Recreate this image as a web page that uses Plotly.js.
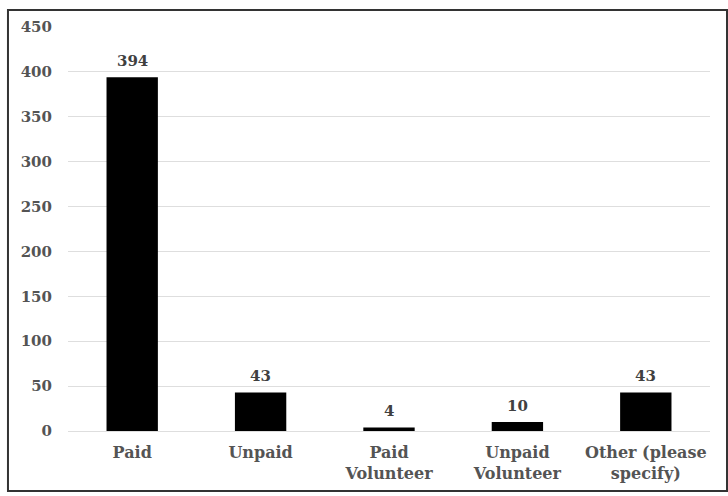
<!DOCTYPE html>
<html>
<head>
<meta charset="utf-8">
<script src="https://cdn.plot.ly/plotly-3.0.1.min.js"></script>
<style>html,body{margin:0;padding:0;background:#fff;}#chart{width:728px;height:496px;}</style>
</head>
<body>
<div id="chart"></div>
<script>
const categories = ["Paid", "Unpaid", "Paid<br>Volunteer", "Unpaid<br>Volunteer", "Other (please<br>specify)"];
const values = [394, 43, 4, 10, 43];
const yTicks = [0, 50, 100, 150, 200, 250, 300, 350, 400, 450];

const fontFam = 'DejaVu Serif, Liberation Serif, serif';

const trace = {
  type: 'bar',
  x: categories,
  y: values,
  marker: {color: '#000000'},
  hoverinfo: 'none'
};

const labelAnnotations = categories.map((c, i) => ({
  x: c, y: values[i], xref: 'x', yref: 'y',
  text: String(values[i]), showarrow: false,
  yanchor: 'bottom', yshift: 5,
  font: {family: fontFam, size: 15, color: '#404040', weight: 'bold'}
}));

const layout = {
  width: 728, height: 496,
  margin: {l: 68, r: 18, t: 27, b: 65},
  paper_bgcolor: '#ffffff', plot_bgcolor: '#ffffff',
  bargap: 0.6,
  showlegend: false,
  font: {family: fontFam, size: 15, color: '#595959', weight: 'bold'},
  xaxis: {
    showgrid: false, showline: false, zeroline: false, ticks: '',
    ticklabelstandoff: 10,
    tickfont: {family: fontFam, size: 16, color: '#545454', weight: 'bold'},
    fixedrange: true
  },
  yaxis: {
    range: [0, 450], tickvals: yTicks, ticktext: yTicks.map(String),
    showgrid: true, gridcolor: '#dedede', gridwidth: 1,
    zeroline: true, zerolinecolor: '#dedede', zerolinewidth: 1,
    showline: false, ticks: '', ticklabelstandoff: 15,
    tickfont: {family: fontFam, size: 15, color: '#545454', weight: 'bold'},
    fixedrange: true
  },
  annotations: labelAnnotations,
  shapes: [{
    type: 'rect', xref: 'paper', yref: 'paper',
    x0: -0.0935, x1: 1.0265, y0: -0.1485, y1: 1.042,
    line: {color: '#333333', width: 2}, fillcolor: 'rgba(0,0,0,0)', layer: 'below'
  }]
};

Plotly.newPlot('chart', [trace], layout, {displayModeBar: false, staticPlot: true});
</script>
</body>
</html>
